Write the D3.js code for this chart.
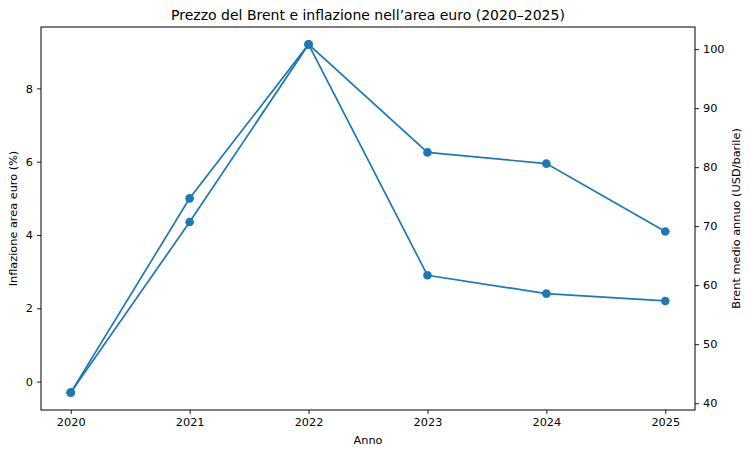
<!DOCTYPE html>
<html>
<head>
<meta charset="utf-8">
<script src="https://cdn.jsdelivr.net/npm/d3@7"></script>
<style>
  body { margin: 0; background: #fff; }
  text { font-family: "DejaVu Sans", sans-serif; fill: #000; }
</style>
</head>
<body>
<div id="chart"></div>
<script>
// data
var years = [2020, 2021, 2022, 2023, 2024, 2025];
var inflazione = [-0.3, 5.0, 9.2, 2.9, 2.4, 2.2];
var brent = [41.8, 70.7, 100.8, 82.5, 80.6, 69.1];
var leftTicks = [0, 2, 4, 6, 8];
var rightTicks = [40, 50, 60, 70, 80, 90, 100];

var svgWidth = 750;
var svgHeight = 455;

var margin = {
    top: 27,
    right: 55,
    bottom: 45,
    left: 41
};

var width = svgWidth - margin.left - margin.right;
var height = svgHeight - margin.top - margin.bottom;
var color = '#1f77b4';

var svg = d3.select('#chart')
    .append('svg')
    .attr('width', svgWidth)
    .attr('height', svgHeight);

var chartGroup = svg.append('g')
    .attr('transform', `translate(${margin.left}, ${margin.top})`);

// matplotlib-like 5% padding
function padded(values) {
    var ext = d3.extent(values);
    var pad = (ext[1] - ext[0]) * 0.05;
    return [ext[0] - pad, ext[1] + pad];
}

var xScale = d3.scaleLinear()
    .domain(padded(years))
    .range([0, width]);

var yLeft = d3.scaleLinear()
    .domain(padded(inflazione))
    .range([height, 0]);

var yRight = d3.scaleLinear()
    .domain(padded(brent))
    .range([height, 0]);

var fontSize = 11.3;

// axes
var bottomAxis = d3.axisBottom(xScale)
    .tickValues(years)
    .tickFormat(d3.format('d'))
    .tickSize(4)
    .tickPadding(4);

var leftAxis = d3.axisLeft(yLeft)
    .tickValues(leftTicks)
    .tickFormat(d3.format('d'))
    .tickSize(4)
    .tickPadding(4);

var rightAxis = d3.axisRight(yRight)
    .tickValues(rightTicks)
    .tickFormat(d3.format('d'))
    .tickSize(4)
    .tickPadding(4);

function styleAxis(g) {
    g.select('.domain').remove();
    g.selectAll('line').attr('stroke', '#000').attr('stroke-width', 0.9);
    g.selectAll('text')
        .attr('font-family', '"DejaVu Sans", sans-serif')
        .attr('font-size', fontSize)
        .attr('fill', '#000');
}

chartGroup.append('g')
    .attr('transform', `translate(0, ${height})`)
    .call(bottomAxis)
    .call(styleAxis);

chartGroup.append('g')
    .call(leftAxis)
    .call(styleAxis);

chartGroup.append('g')
    .attr('transform', `translate(${width}, 0)`)
    .call(rightAxis)
    .call(styleAxis);

// frame
chartGroup.append('rect')
    .attr('width', width)
    .attr('height', height)
    .attr('fill', 'none')
    .attr('stroke', '#000')
    .attr('stroke-width', 1);

// lines + markers
function drawSeries(values, yScale) {
    var data = years.map((y, i) => ({ year: y, value: values[i] }));
    var line = d3.line()
        .x(d => xScale(d.year))
        .y(d => yScale(d.value));

    chartGroup.append('path')
        .datum(data)
        .attr('d', line)
        .attr('fill', 'none')
        .attr('stroke', color)
        .attr('stroke-width', 1.7);

    chartGroup.append('g')
        .selectAll('circle')
        .data(data)
        .enter()
        .append('circle')
        .attr('cx', d => xScale(d.year))
        .attr('cy', d => yScale(d.value))
        .attr('r', 4.3)
        .attr('fill', color);
}

drawSeries(inflazione, yLeft);
drawSeries(brent, yRight);

// title and labels
svg.append('text')
    .attr('x', margin.left + width / 2)
    .attr('y', 20)
    .attr('text-anchor', 'middle')
    .attr('font-size', 14)
    .text('Prezzo del Brent e inflazione nell\u2019area euro (2020\u20132025)');

svg.append('text')
    .attr('x', margin.left + width / 2)
    .attr('y', 444)
    .attr('text-anchor', 'middle')
    .attr('font-size', fontSize)
    .text('Anno');

svg.append('text')
    .attr('transform', `translate(17, ${margin.top + height / 2}) rotate(-90)`)
    .attr('text-anchor', 'middle')
    .attr('font-size', fontSize)
    .text('Inflazione area euro (%)');

svg.append('text')
    .attr('transform', `translate(740, ${margin.top + height / 2}) rotate(-90)`)
    .attr('text-anchor', 'middle')
    .attr('font-size', fontSize)
    .text('Brent medio annuo (USD/barile)');
</script>
</body>
</html>
